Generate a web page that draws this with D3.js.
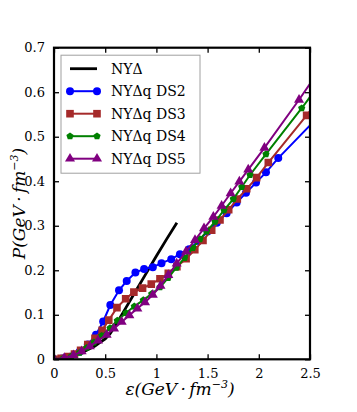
<!DOCTYPE html>
<html>
<head>
<meta charset="utf-8">
<script src="https://cdn.jsdelivr.net/npm/d3@7"></script>
<style>
body { margin: 0; background: #fff; }
</style>
</head>
<body>
<div id="chart"></div>
<script>
// energy density (GeV fm^-3) and pressure
var blackE = [0, 0.1, 0.2, 0.3, 0.4, 0.45, 0.5, 0.55, 0.6, 0.7, 0.8, 0.9, 1.0, 1.1, 1.2];
var blackP = [0, 0.003, 0.009, 0.018, 0.03, 0.038, 0.046, 0.058, 0.076, 0.115, 0.154, 0.193, 0.232, 0.27, 0.307];

var ds2E = [0, 0.08, 0.16, 0.25, 0.33, 0.41, 0.48, 0.55, 0.635, 0.71, 0.795, 0.88, 0.965, 1.05, 1.145, 1.23, 1.32, 1.41, 1.5, 1.59, 1.686, 1.784, 1.875, 1.973, 2.07, 2.19, 2.75];
var ds2P = [0, 0.002, 0.006, 0.017, 0.033, 0.055, 0.085, 0.122, 0.155, 0.176, 0.195, 0.203, 0.207, 0.216, 0.225, 0.236, 0.247, 0.266, 0.287, 0.307, 0.328, 0.352, 0.374, 0.397, 0.42, 0.452, 0.585];

var ds3E = [0, 0.07, 0.14, 0.2, 0.26, 0.33, 0.4, 0.47, 0.535, 0.615, 0.7, 0.78, 0.865, 0.95, 1.035, 1.116, 1.2, 1.29, 1.375, 1.455, 1.54, 1.621, 1.706, 1.79, 1.882, 1.979, 2.093, 2.467, 2.75];
var ds3P = [0, 0.002, 0.006, 0.012, 0.02, 0.033, 0.047, 0.065, 0.088, 0.116, 0.136, 0.151, 0.16, 0.169, 0.181, 0.193, 0.208, 0.226, 0.246, 0.267, 0.29, 0.313, 0.336, 0.36, 0.383, 0.408, 0.442, 0.548, 0.63];

var ds4E = [0, 0.09, 0.17, 0.25, 0.32, 0.39, 0.465, 0.547, 0.618, 0.703, 0.784, 0.872, 0.954, 1.035, 1.115, 1.195, 1.275, 1.355, 1.425, 1.49, 1.572, 1.66, 1.751, 1.833, 1.914, 2.07, 2.419, 2.75];
var ds4P = [0, 0.002, 0.007, 0.015, 0.026, 0.038, 0.053, 0.07, 0.087, 0.104, 0.119, 0.133, 0.147, 0.162, 0.183, 0.206, 0.228, 0.25, 0.27, 0.287, 0.309, 0.335, 0.36, 0.387, 0.414, 0.461, 0.564, 0.667];

var ds5E = [0, 0.1, 0.19, 0.27, 0.35, 0.43, 0.514, 0.586, 0.661, 0.736, 0.814, 0.889, 0.965, 1.04, 1.116, 1.198, 1.289, 1.377, 1.465, 1.556, 1.637, 1.725, 1.81, 1.897, 2.055, 2.393, 2.8];
var ds5P = [0, 0.003, 0.009, 0.018, 0.029, 0.042, 0.055, 0.069, 0.084, 0.099, 0.114, 0.128, 0.145, 0.165, 0.189, 0.215, 0.242, 0.268, 0.294, 0.32, 0.345, 0.373, 0.399, 0.426, 0.475, 0.583, 0.72];

var seriesNames = ["NY\u0394", "NY\u0394q DS2", "NY\u0394q DS3", "NY\u0394q DS4", "NY\u0394q DS5"];
var xTicks = [0, 0.5, 1, 1.5, 2, 2.5];
var xTickLabels = ["0", "0.5", "1", "1.5", "2", "2.5"];
var yTicks = [0, 0.1, 0.2, 0.3, 0.4, 0.5, 0.6, 0.7];
var yTickLabels = ["0", "0.1", "0.2", "0.3", "0.4", "0.5", "0.6", "0.7"];

var width = 357, height = 412;
var margin = {left: 54, right: 47, top: 47.7, bottom: 52.7};
var iw = width - margin.left - margin.right,
    ih = height - margin.top - margin.bottom;

function zip(a, b) { return a.map(function(d, i) { return [d, b[i]]; }); }

var series = [
    {name: seriesNames[0], color: "#000000", pts: zip(blackE, blackP), marker: null, lw: 2.8},
    {name: seriesNames[1], color: "#0000ff", pts: zip(ds2E, ds2P), marker: "circle", lw: 2},
    {name: seriesNames[2], color: "#a52a2a", pts: zip(ds3E, ds3P), marker: "square", lw: 2},
    {name: seriesNames[3], color: "#008000", pts: zip(ds4E, ds4P), marker: "pentagon", lw: 2},
    {name: seriesNames[4], color: "#800080", pts: zip(ds5E, ds5P), marker: "triangle", lw: 2}
];

var x = d3.scaleLinear().domain([0, 2.5]).range([0, iw]);
var y = d3.scaleLinear().domain([0, 0.7]).range([ih, 0]);

var svg = d3.select("#chart").append("svg")
    .attr("width", width)
    .attr("height", height);

svg.append("defs").append("clipPath").attr("id", "clip")
    .append("rect").attr("width", iw).attr("height", ih);

var g = svg.append("g")
    .attr("transform", "translate(" + margin.left + "," + margin.top + ")");

function markerPath(type) {
    if (type == "circle") return d3.symbol(d3.symbolCircle, 50)();
    if (type == "square") return d3.symbol(d3.symbolSquare, 58)();
    if (type == "triangle") return d3.symbol(d3.symbolTriangle, 44)();
    if (type == "pentagon") {
        var r = 3.8, p = [];
        for (var k = 0; k < 5; k++) {
            var a = -Math.PI / 2 + k * 2 * Math.PI / 5;
            p.push([r * Math.cos(a), r * Math.sin(a)]);
        }
        return "M" + p.join("L") + "Z";
    }
    return null;
}

var line = d3.line()
    .x(function(d) { return x(d[0]); })
    .y(function(d) { return y(d[1]); });

var plot = g.append("g").attr("clip-path", "url(#clip)");

series.forEach(function(s) {
    plot.append("path")
        .datum(s.pts)
        .attr("fill", "none")
        .attr("stroke", s.color)
        .attr("stroke-width", s.lw)
        .attr("d", line);
    if (s.marker) {
        plot.selectAll(null)
            .data(s.pts)
            .enter().append("path")
            .attr("d", markerPath(s.marker))
            .attr("fill", s.color)
            .attr("transform", function(d) { return "translate(" + x(d[0]) + "," + y(d[1]) + ")"; });
    }
});

// axes, ticks inward on all four sides
var fontTick = "DejaVu Serif";
var xAxisB = d3.axisBottom(x).tickValues(xTicks).tickSize(-5).tickPadding(9)
    .tickFormat(function(d, i) { return xTickLabels[i]; });
var xAxisT = d3.axisTop(x).tickValues(xTicks).tickSize(-5).tickFormat("");
var yAxisL = d3.axisLeft(y).tickValues(yTicks).tickSize(-5).tickPadding(9)
    .tickFormat(function(d, i) { return yTickLabels[i]; });
var yAxisR = d3.axisRight(y).tickValues(yTicks).tickSize(-5).tickFormat("");

function styleAxis(sel) {
    sel.select(".domain").remove();
    sel.selectAll(".tick line").attr("stroke", "#000").attr("stroke-width", 1.3);
    sel.selectAll(".tick text").attr("fill", "#000")
        .style("font-family", fontTick).style("font-size", "13px");
}

g.append("g").attr("transform", "translate(0," + ih + ")").call(xAxisB).call(styleAxis);
g.append("g").call(xAxisT).call(styleAxis);
g.append("g").call(yAxisL).call(styleAxis);
g.append("g").attr("transform", "translate(" + iw + ",0)").call(yAxisR).call(styleAxis);

g.append("rect")
    .attr("width", iw).attr("height", ih)
    .attr("fill", "none").attr("stroke", "#000").attr("stroke-width", 2.2);

// legend
var leg = g.append("g").attr("transform", "translate(7,7.5)");
leg.append("rect")
    .attr("width", 139).attr("height", 118)
    .attr("fill", "#fff").attr("stroke", "#a0a0a0").attr("stroke-width", 1);

series.forEach(function(s, i) {
    var ry = 13.5 + i * 22.5;
    var row = leg.append("g").attr("transform", "translate(0," + ry + ")");
    row.append("line")
        .attr("x1", 9).attr("x2", 36).attr("y1", 0).attr("y2", 0)
        .attr("stroke", s.color).attr("stroke-width", s.lw);
    if (s.marker) {
        [9, 36].forEach(function(mx) {
            row.append("path").attr("d", markerPath(s.marker))
                .attr("fill", s.color)
                .attr("transform", "translate(" + mx + ",0)");
        });
    }
    row.append("text")
        .attr("x", 50).attr("y", 5)
        .style("font-family", "DejaVu Serif").style("font-size", "14px")
        .text(s.name);
});

// axis titles
var xt = svg.append("text")
    .attr("x", margin.left + iw / 2 - 2).attr("y", 395)
    .attr("text-anchor", "middle")
    .style("font-family", "DejaVu Serif").style("font-size", "17px").style("font-style", "italic");
xt.append("tspan").text("\u03b5(GeV\u2009\u00b7\u2009fm");
xt.append("tspan").attr("dy", -7).style("font-size", "11px").text("\u22123");
xt.append("tspan").attr("dy", 7).text(")");

var yt = svg.append("text")
    .attr("transform", "translate(25," + (margin.top + ih / 2) + ") rotate(-90)")
    .attr("text-anchor", "middle")
    .style("font-family", "DejaVu Serif").style("font-size", "17px").style("font-style", "italic");
yt.append("tspan").text("P(GeV\u2009\u00b7\u2009fm");
yt.append("tspan").attr("dy", -7).style("font-size", "11px").text("\u22123");
yt.append("tspan").attr("dy", 7).text(")");
</script>
</body>
</html>
